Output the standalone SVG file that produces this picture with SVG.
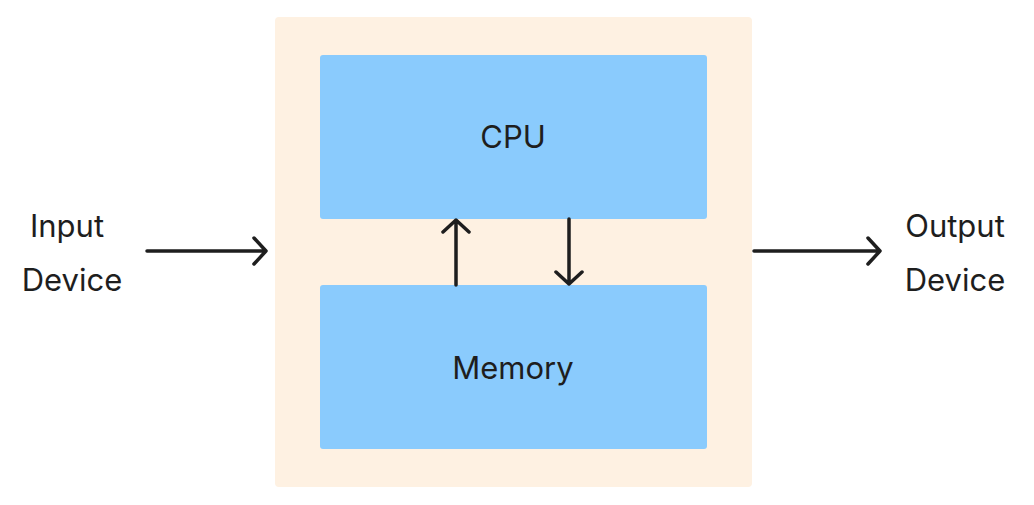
<svg xmlns="http://www.w3.org/2000/svg" width="1034" height="505" viewBox="0 0 1034 505">
<style>
text{font-family:Inter,"Liberation Sans",sans-serif;font-size:31px;fill:#1e1e1e;text-anchor:middle}
.box{fill:#8ACBFD}
.c{stroke:#1e1e1e;stroke-width:3.5;fill:none;stroke-linecap:round;stroke-linejoin:round}
</style>
<rect width="1034" height="505" fill="#fff"/>
<g id="computer"><rect x="275" y="17" width="477" height="470" rx="4" fill="#FEF1E2"/></g>
<g id="cpu"><rect class="box" x="320" y="55" width="387" height="164" rx="3"/><text x="513" y="148">CPU</text></g>
<g id="memory"><rect class="box" x="320" y="285" width="387" height="164" rx="3"/><text x="513" y="379">Memory</text></g>
<g id="input"><text x="67" y="237">Input</text><text x="72" y="291">Device</text></g>
<g id="output"><text x="955" y="237">Output</text><text x="955" y="291">Device</text></g>
<g id="connectors">
<path class="c" d="M147 251H266M254 238L266 251L254 264"/>
<path class="c" d="M754 251H880M868 238L880 251L868 264"/>
<path class="c" d="M456 285V220M443 232L456 220L469 232"/>
<path class="c" d="M569 219V284M556 272L569 284L582 272"/>
</g>
</svg>
